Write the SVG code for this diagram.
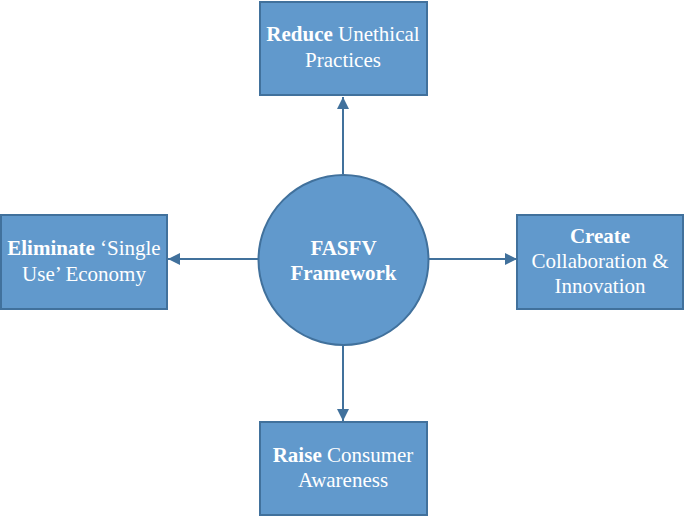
<svg xmlns="http://www.w3.org/2000/svg" width="685" height="517" viewBox="0 0 685 517">
<defs>
<style>
.box{fill:#6199cc;stroke:#41719c;stroke-width:2}
text{font-family:'Liberation Serif','Times New Roman',serif;font-size:21px;fill:#ffffff;text-anchor:middle}
.b{font-weight:bold}
.c{stroke:#41719c;stroke-width:2;fill:none}
</style>
<marker id="ah" viewBox="0 0 10 10" refX="10" refY="5" markerWidth="12" markerHeight="12" markerUnits="userSpaceOnUse" orient="auto">
<path d="M0,0 L10,5 L0,10 z" fill="#41719c"/>
</marker>
</defs>
<rect width="685" height="517" fill="#ffffff"/>
<g id="connectors">
<line class="c" x1="343" y1="174" x2="343" y2="97" marker-end="url(#ah)"/>
<line class="c" x1="258" y1="259" x2="168" y2="259" marker-end="url(#ah)"/>
<line class="c" x1="428" y1="259" x2="517" y2="259" marker-end="url(#ah)"/>
<line class="c" x1="343" y1="345" x2="343" y2="421" marker-end="url(#ah)"/>
</g>
<g id="center">
<circle class="box" cx="343.5" cy="260" r="85"/>
<text class="b" x="343.5" y="255">FASFV</text>
<text class="b" x="343.5" y="280">Framework</text>
</g>
<g id="top">
<rect class="box" x="260" y="2" width="167" height="93"/>
<text x="343" y="41"><tspan class="b">Reduce</tspan> Unethical</text>
<text x="343" y="67">Practices</text>
</g>
<g id="left">
<rect class="box" x="1" y="215" width="166" height="94"/>
<text x="84" y="255"><tspan class="b">Eliminate</tspan> ‘Single</text>
<text x="84" y="281">Use’ Economy</text>
</g>
<g id="right">
<rect class="box" x="517" y="215" width="166" height="94"/>
<text class="b" x="600" y="243">Create</text>
<text x="600" y="268">Collaboration &amp;</text>
<text x="600" y="293">Innovation</text>
</g>
<g id="bottom">
<rect class="box" x="260" y="422" width="167" height="93"/>
<text x="343" y="462"><tspan class="b">Raise</tspan> Consumer</text>
<text x="343" y="487">Awareness</text>
</g>
</svg>
